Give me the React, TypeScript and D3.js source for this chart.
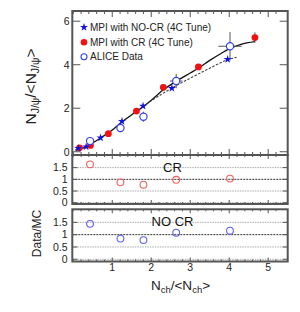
import React from "react";
import * as d3 from "d3";

const aliceX = [0.43, 1.21, 1.8, 2.64, 4.02];
const aliceY = [0.49, 1.09, 1.61, 3.25, 4.85];
const aliceYErr = [0.04, 0.05, 0.23, 0.33, 0.65];
const aliceXErr = [0.03, 0.04, 0.09, 0.16, 0.3];
const noCrX = [0.13, 0.33, 0.7, 1.25, 1.79, 2.53, 3.96];
const noCrY = [0.16, 0.23, 0.64, 1.4, 2.1, 2.92, 4.25];
const crX = [0.16, 0.44, 0.9, 1.62, 2.31, 3.21, 4.66];
const crY = [0.18, 0.29, 0.83, 1.87, 2.96, 3.9, 5.25];
const crYErr = [0, 0, 0, 0, 0, 0, 0.24];
const ratioCR = [1.64, 0.87, 0.77, 0.98, 1.03];
const ratioNoCR = [1.44, 0.84, 0.78, 1.08, 1.16];
const fitCRX = [0.05, 0.3, 0.67, 1.0, 1.19, 1.5, 1.79, 2.0, 2.31, 2.65, 3.0, 3.21, 3.5, 3.8, 4.02, 4.3, 4.66];
const fitCRY = [0.07, 0.2, 0.6, 1.0, 1.29, 1.7, 2.07, 2.37, 2.85, 3.25, 3.62, 3.84, 4.2, 4.53, 4.75, 4.94, 5.06];
const fitNoCRX = [1.79, 2.0, 2.3, 2.65, 3.0, 3.5, 3.96, 4.19];
const fitNoCRY = [2.07, 2.34, 2.68, 3.05, 3.38, 3.84, 4.23, 4.34];
const xTicks = [1, 2, 3, 4, 5];
const mainYTicks = [0, 2, 4, 6];
const ratioYTicks = [0, 0.5, 1, 1.5];
const legendLabels = ["MPI with NO-CR (4C Tune)", "MPI with CR (4C Tune)", "ALICE Data"];

const FONT = "'Liberation Sans', Arial, Helvetica, sans-serif";
const L = 72.3, R = 287.7;
const frameColor = "#555";

export default function App() {
  const x = d3.scaleLinear().domain([-0.025, 5.5]).range([L, R]);
  const yMain = d3.scaleLinear().domain([-0.15, 6.47]).range([155, 11]);
  const yCR = d3.scaleLinear().domain([-0.056, 2.04]).range([204, 155]);
  const yNo = d3.scaleLinear().domain([-0.09, 2.03]).range([261.5, 209.3]);

  const minorX = d3.range(0, 27).map((i) => i * 0.2).filter((v) => x(v) < R - 1);

  const line = d3
    .line<[number, number]>()
    .x((d) => x(d[0]))
    .y((d) => yMain(d[1]))
    .curve(d3.curveMonotoneX);

  const fitCR = fitCRX.map((v, i) => [v, fitCRY[i]] as [number, number]);
  const fitNo = fitNoCRX.map((v, i) => [v, fitNoCRY[i]] as [number, number]);

  const star = d3.symbol().type(d3.symbolStar).size(20)();

  const xTickMarks = (top: number, bottom: number, maj: number, min: number, key: string) => (
    <g key={key} stroke={frameColor} strokeWidth={1}>
      {minorX.map((v, i) => {
        const isMaj = Math.abs(v - Math.round(v)) < 1e-6 && v > 0;
        const len = isMaj ? maj : min;
        return (
          <g key={i}>
            <line x1={x(v)} x2={x(v)} y1={bottom} y2={bottom - len} />
            <line x1={x(v)} x2={x(v)} y1={top} y2={top + len} />
          </g>
        );
      })}
    </g>
  );

  const ratioPanel = (
    ys: d3.ScaleLinear<number, number>,
    vals: number[],
    color: string,
    label: string,
    showXLabels: boolean,
    key: string
  ) => {
    const [bottom, top] = ys.range();
    return (
      <g key={key}>
        {ratioYTicks.map((t) => (
          <line
            key={"g" + t}
            x1={L}
            x2={R}
            y1={ys(t)}
            y2={ys(t)}
            stroke={t === 1 ? "#333" : "#aaa"}
            strokeWidth={1}
            strokeDasharray={t === 1 ? "2,1" : "1.5,1"}
          />
        ))}
        <rect x={L} y={top} width={R - L} height={bottom - top} fill="none" stroke={frameColor} strokeWidth={2} />
        {xTickMarks(top, bottom, 4, 2, key + "xt")}
        {ratioYTicks.map((t) => (
          <g key={"t" + t}>
            <line x1={L} x2={L + 5} y1={ys(t)} y2={ys(t)} stroke={frameColor} />
            <line x1={R} x2={R - 5} y1={ys(t)} y2={ys(t)} stroke={frameColor} />
            <text x={67.5} y={ys(t) + 3.6} textAnchor="end" fontSize={10.5} fontFamily={FONT} fill="#222">
              {t}
            </text>
          </g>
        ))}
        {showXLabels &&
          xTicks.map((t) => (
            <text key={"xl" + t} x={x(t)} y={271} textAnchor="middle" fontSize={10.5} fontFamily={FONT} fill="#222">
              {t}
            </text>
          ))}
        <text x={172.5} y={top + 16.5} textAnchor="middle" fontSize={13} fontFamily={FONT} fill="#111">
          {label}
        </text>
        {vals.map((v, i) => (
          <circle key={i} cx={x(aliceX[i])} cy={ys(v)} r={3.4} fill="none" stroke={color} strokeWidth={1.1} />
        ))}
      </g>
    );
  };

  return (
    <svg width={300} height={312} style={{ position: "fixed", left: 0, top: 0, background: "#fff" }}>
      <rect width={300} height={312} fill="#fff" />
      {/* main panel */}
      <path d={line(fitCR) || ""} fill="none" stroke="#111" strokeWidth={1.3} />
      <path d={line(fitNo) || ""} fill="none" stroke="#444" strokeWidth={1.1} strokeDasharray="2.5,1.5" />
      {/* error bars */}
      {aliceX.map((v, i) => (
        <g key={"e" + i} stroke="#555" strokeWidth={1}>
          <line x1={x(v)} x2={x(v)} y1={yMain(aliceY[i] - aliceYErr[i])} y2={yMain(aliceY[i] + aliceYErr[i])} />
          <line x1={x(v - aliceXErr[i])} x2={x(v + aliceXErr[i])} y1={yMain(aliceY[i])} y2={yMain(aliceY[i])} />
        </g>
      ))}
      {crX.map((v, i) =>
        crYErr[i] > 0 ? (
          <line key={"ce" + i} x1={x(v)} x2={x(v)} y1={yMain(crY[i] - crYErr[i])} y2={yMain(crY[i] + crYErr[i])} stroke="#555" />
        ) : null
      )}
      {crX.map((v, i) => (
        <circle key={"c" + i} cx={x(v)} cy={yMain(crY[i])} r={3.4} fill="#f21010" />
      ))}
      {noCrX.map((v, i) => (
        <path key={"s" + i} d={star || ""} transform={`translate(${x(v)},${yMain(noCrY[i])})`} fill="#1010e0" />
      ))}
      {aliceX.map((v, i) => (
        <circle key={"a" + i} cx={x(v)} cy={yMain(aliceY[i])} r={3.6} fill="#fff" stroke="#3344ee" strokeWidth={1.2} />
      ))}
      <rect x={L} y={11} width={R - L} height={155 - 11} fill="none" stroke={frameColor} strokeWidth={2} />
      {xTickMarks(11, 155, 6, 3, "mainxt")}
      {mainYTicks.map((t) => (
        <g key={"my" + t}>
          <line x1={L} x2={L + 8} y1={yMain(t)} y2={yMain(t)} stroke={frameColor} />
          <line x1={R} x2={R - 8} y1={yMain(t)} y2={yMain(t)} stroke={frameColor} />
          <text x={69.5} y={yMain(t) + 3.8} textAnchor="end" fontSize={10.5} fontFamily={FONT} fill="#222">
            {t}
          </text>
        </g>
      ))}
      {/* legend */}
      <path d={star || ""} transform="translate(84,27.3)" fill="#1010e0" />
      <circle cx={84} cy={42.3} r={3.3} fill="#f21010" />
      <circle cx={84} cy={56.7} r={3} fill="none" stroke="#3344ee" strokeWidth={1.1} />
      {legendLabels.map((t, i) => (
        <text key={t} x={90} y={[27.3, 42.3, 56.7][i] + 3.7} fontSize={10} fontFamily={FONT} fill="#222">
          {t}
        </text>
      ))}
      {/* ratio panels */}
      {ratioPanel(yCR, ratioCR, "#f06060", "CR", false, "cr")}
      {ratioPanel(yNo, ratioNoCR, "#6060f0", "NO CR", true, "no")}
      {/* axis titles */}
      <text x={180.5} y={290} textAnchor="middle" fontSize={13.5} fontFamily={FONT} fill="#222">
        N<tspan fontSize={9.5} dy={3}>ch</tspan>
        <tspan dy={-3}>/&lt;N</tspan>
        <tspan fontSize={9.5} dy={3}>ch</tspan>
        <tspan dy={-3}>&gt;</tspan>
      </text>
      <text transform="translate(41,233.5) rotate(-90)" textAnchor="middle" fontSize={12} fontFamily={FONT} fill="#222">
        Data/MC
      </text>
      <text transform="translate(35.5,86.5) rotate(-90)" textAnchor="middle" fontSize={15.5} fontFamily={FONT} fill="#222">
        N<tspan fontSize={10.5} dy={3.5}>J/ψ</tspan>
        <tspan dy={-3.5}>/&lt;N</tspan>
        <tspan fontSize={10.5} dy={3.5}>J/ψ</tspan>
        <tspan dy={-3.5}>&gt;</tspan>
      </text>
    </svg>
  );
}
